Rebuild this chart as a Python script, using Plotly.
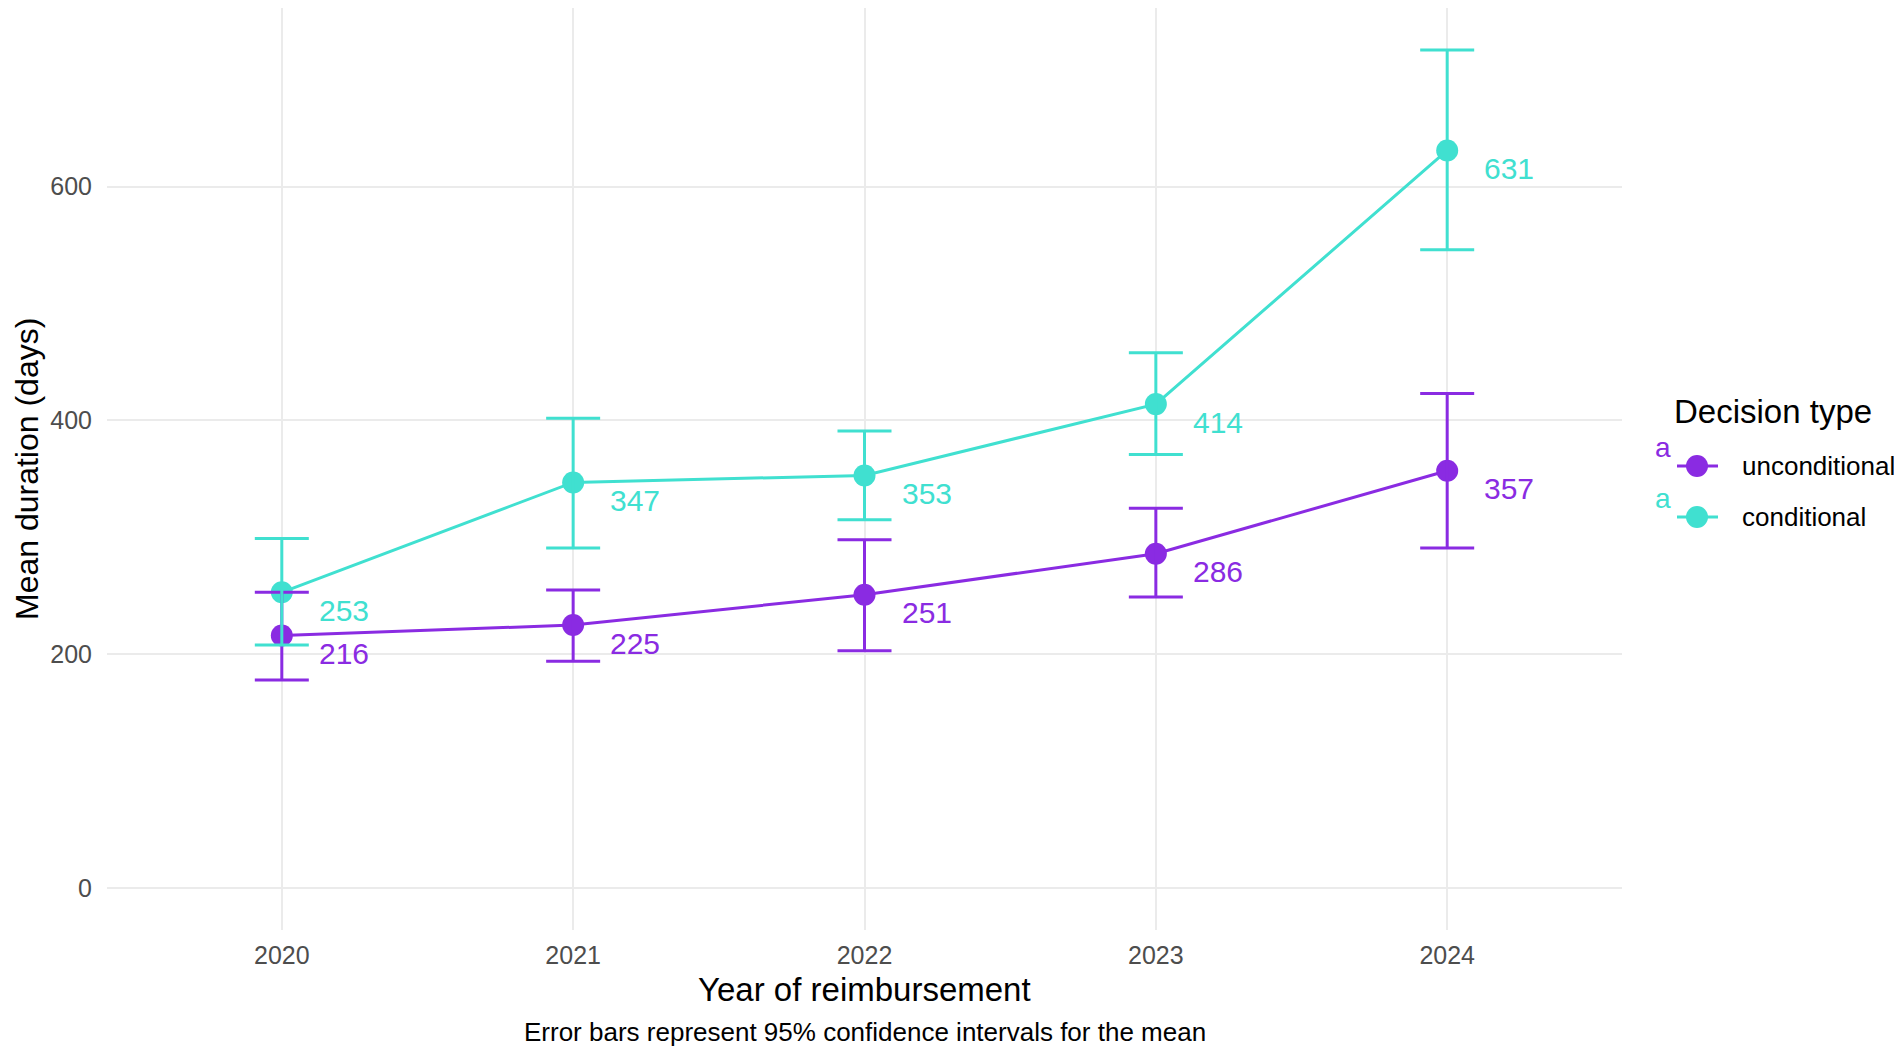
import plotly.graph_objects as go

years = [2020, 2021, 2022, 2023, 2024]
series_names = ["unconditional", "conditional"]
uncond_mean = [216, 225, 251, 286, 357]
uncond_lo = [178, 194, 203, 249, 291]
uncond_hi = [253, 255, 298, 325, 423]
cond_mean = [253, 347, 353, 414, 631]
cond_lo = [208, 291, 315, 371, 546]
cond_hi = [299, 402, 391, 458, 717]

PURPLE = "#8A2BE2"
TEAL = "#40E0D0"
FONT = "Liberation Sans, Arial, sans-serif"

# the page body adds an 8px margin; work in page pixels and convert
OFF = 8
W, H = 1902 - OFF, 1053 - OFF
# plot panel in page pixels
PL, PR, PT, PB = 107, 1622, 8, 930


def px(xp):
    return (xp - PL) / (PR - PL)


def py(yp):
    return (PB - yp) / (PB - PT)


fig = go.Figure()

series = [
    (series_names[0], uncond_mean, uncond_lo, uncond_hi, PURPLE),
    (series_names[1], cond_mean, cond_lo, cond_hi, TEAL),
]

# lines + points (teal first, purple on top)
for name, m, lo, hi, col in reversed(series):
    fig.add_trace(go.Scatter(
        x=years, y=m, mode="lines+markers", name=name,
        line=dict(color=col, width=3),
        marker=dict(color=col, size=22),
        showlegend=False, hoverinfo="skip",
    ))

# error bars drawn on top of points (purple, then teal)
for name, m, lo, hi, col in series:
    fig.add_trace(go.Scatter(
        x=years, y=m, mode="markers",
        marker=dict(color="rgba(0,0,0,0)", size=1),
        error_y=dict(type="data", symmetric=False,
                     array=[h - v for h, v in zip(hi, m)],
                     arrayminus=[v - l for v, l in zip(m, lo)],
                     color=col, thickness=3, width=27),
        showlegend=False, hoverinfo="skip",
    ))

annotations = []
# value labels
for name, m, lo, hi, col in series:
    for x, v in zip(years, m):
        annotations.append(dict(
            x=x, y=v, xref="x", yref="y", text=str(v), showarrow=False,
            xanchor="left", yanchor="middle", xshift=35, yshift=-18,
            font=dict(family=FONT, size=30, color=col),
        ))

# axis titles and caption
annotations.append(dict(x=0.5, y=py(989), xref="paper", yref="paper",
                        text="Year of reimbursement", showarrow=False,
                        xanchor="center", yanchor="middle",
                        font=dict(family=FONT, size=33, color="black")))
annotations.append(dict(x=px(27), y=0.5, xref="paper", yref="paper",
                        text="Mean duration (days)", showarrow=False, textangle=-90,
                        xanchor="center", yanchor="middle",
                        font=dict(family=FONT, size=32, color="black")))
annotations.append(dict(x=0.5, y=py(1032), xref="paper", yref="paper",
                        text="Error bars represent 95% confidence intervals for the mean",
                        showarrow=False, xanchor="center", yanchor="middle",
                        font=dict(family=FONT, size=26, color="black")))

# manual legend
annotations.append(dict(x=px(1672), y=py(411), xref="paper", yref="paper",
                        text="Decision type", showarrow=False,
                        xanchor="left", yanchor="middle",
                        font=dict(family=FONT, size=33, color="black")))
shapes = []
legend_rows = [(466, 447), (517, 498)]
for (name, m, lo, hi, col), (ky, ay) in zip(series, legend_rows):
    shapes.append(dict(type="line", xref="paper", yref="paper",
                       x0=px(1677), x1=px(1718), y0=py(ky), y1=py(ky),
                       line=dict(color=col, width=3)))
    shapes.append(dict(type="circle", xref="paper", yref="paper",
                       xsizemode="pixel", ysizemode="pixel",
                       xanchor=px(1697), yanchor=py(ky),
                       x0=-11, x1=11, y0=-11, y1=11,
                       fillcolor=col, line=dict(width=0)))
    annotations.append(dict(x=px(1740), y=py(ky), xref="paper", yref="paper",
                            text=name, showarrow=False,
                            xanchor="left", yanchor="middle",
                            font=dict(family=FONT, size=26, color="black")))
    annotations.append(dict(x=px(1663), y=py(ay), xref="paper", yref="paper",
                            text="a", showarrow=False,
                            xanchor="center", yanchor="middle",
                            font=dict(family=FONT, size=28, color=col)))

ymax = max(cond_hi + uncond_hi)
ypad = 0.05 * ymax

fig.update_layout(
    width=W, height=H,
    margin=dict(l=PL - OFF, r=1902 - PR, t=PT - OFF, b=1053 - PB, pad=0),
    paper_bgcolor="white", plot_bgcolor="white",
    showlegend=False,
    annotations=annotations, shapes=shapes,
    font=dict(family=FONT),
)
fig.update_xaxes(
    range=[years[0] - 0.6, years[-1] + 0.6],
    tickvals=years, ticktext=[str(y) for y in years],
    showgrid=True, gridcolor="#EBEBEB", gridwidth=2,
    zeroline=False, showline=False, ticks="",
    tickfont=dict(family=FONT, size=25, color="#4D4D4D"),
    ticklabelstandoff=8,
)
fig.update_yaxes(
    range=[-ypad, ymax + ypad],
    tickvals=[0, 200, 400, 600],
    showgrid=True, gridcolor="#EBEBEB", gridwidth=2,
    zeroline=False, showline=False, ticks="",
    tickfont=dict(family=FONT, size=25, color="#4D4D4D"),
    ticklabelstandoff=14,
)

fig.write_html("out.html")
